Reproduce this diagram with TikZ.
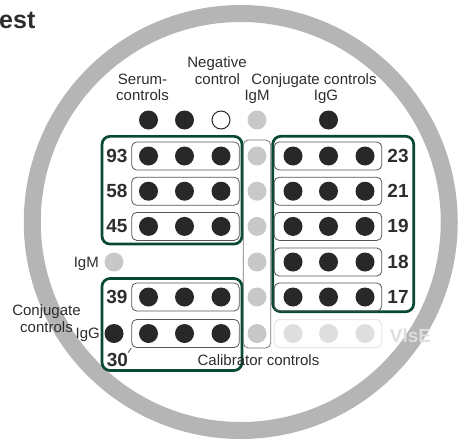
\documentclass[tikz,border=0pt]{standalone}
\usepackage{fontspec}
\setmainfont{Liberation Sans}
\definecolor{ringgray}{RGB}{180,181,180}
\definecolor{grpgreen}{RGB}{8,72,54}
\definecolor{dotdark}{RGB}{40,40,40}
\definecolor{calgray}{RGB}{200,200,200}
\definecolor{vgray}{RGB}{222,222,222}
\definecolor{vline}{RGB}{230,230,230}
\definecolor{textc}{RGB}{45,45,45}
\definecolor{rowline}{RGB}{85,85,85}
\begin{document}
\begin{tikzpicture}[x=1pt,y=-1pt,
  lbl/.style={font=\fontsize{15}{17}\selectfont, text=textc, inner sep=0pt},
  num/.style={font=\fontsize{19}{21}\selectfont\bfseries, text=textc, inner sep=0pt},
  dotd/.style={circle, minimum size=19pt, inner sep=0pt, fill=dotdark},
  dotc/.style={circle, minimum size=19pt, inner sep=0pt, fill=calgray},
  dotv/.style={circle, minimum size=19pt, inner sep=0pt, fill=vgray},
  doto/.style={circle, minimum size=18pt, inner sep=0pt, fill=white, draw=dotdark, line width=1pt},
  rowbox/.style={rectangle, draw=rowline, line width=0.8pt, rounded corners=5pt, minimum width=107.6pt, minimum height=28pt, inner sep=0pt},
  vbox/.style={rectangle, draw=vline, line width=1pt, rounded corners=5pt, minimum width=107.6pt, minimum height=28pt, inner sep=0pt},
  calbox/.style={rectangle, draw=rowline!80, line width=0.8pt, rounded corners=5pt, minimum width=27.4pt, minimum height=208pt, inner sep=0pt},
  grp/.style={rectangle, draw=grpgreen, line width=2.7pt, rounded corners=8pt, inner sep=0pt}
]
\useasboundingbox (0,0) rectangle (462,439);
\begin{scope}
  \clip (0,0) rectangle (462,439);
  \draw[ringgray, line width=17pt] (240.75,222) circle[radius=208.5pt];
\end{scope}

% title fragment
\node[font=\fontsize{25}{27}\selectfont\bfseries, text=textc, inner sep=0pt, anchor=base west] (title) at (-1,28) {est};

% top labels
\node[lbl, anchor=base] (serumA) at (142.5,84) {Serum-};
\node[lbl, anchor=base] (serumB) at (142.5,100) {controls};
\node[lbl, anchor=base] (negA) at (217,67) {Negative};
\node[lbl, anchor=base] (negB) at (217.5,84) {control};
\node[lbl, anchor=base] (conjT) at (314,84) {Conjugate controls};
\node[lbl, anchor=base] (igmT) at (257,100) {IgM};
\node[lbl, anchor=base] (iggT) at (326,100) {IgG};

% top row dots
\node[dotd] (s1) at (148.5,120) {};
\node[dotd] (s2) at (184.5,120) {};
\node[doto] (neg) at (221,120) {};
\node[dotc] (tigm) at (257,120) {};
\node[dotd] (tigg) at (328.5,120) {};

% group boxes
\node[grp, minimum width=140pt, minimum height=107.7pt] (gLT) at (172,190.2) {};
\node[grp, minimum width=140pt, minimum height=92pt] (gLB) at (172,324.5) {};
\node[grp, minimum width=141pt, minimum height=175.4pt] (gR) at (343.2,224) {};

% calibrator column
\node[calbox] (cal) at (257,244) {};
\foreach \y [count=\i] in {156,191.2,226.4,262,297,333.5} {
  \node[dotc] (c\i) at (257,\y) {};
}

% left rows
\foreach \y/\n in {156/93,191.2/58,226.4/45,297/39,333.5/30} {
  \node[rowbox] (r\n) at (185.5,\y) {};
  \node[dotd] (r\n a) at (148.5,\y) {};
  \node[dotd] (r\n b) at (184.5,\y) {};
  \node[dotd] (r\n c) at (221,\y) {};
}
\foreach \y/\n in {156/93,191.2/58,226.4/45,297/39} {
  \node[num] (n\n) at (117,\y) {\n};
}
\node[num] (n30) at (117.5,359.5) {30};
\draw[rowline, line width=0.8pt] (n30.north east) -- (r30.south west);

% right rows
\foreach \y/\n in {156/23,191.2/21,226.4/19,262/18,297/17} {
  \node[rowbox] (r\n) at (328,\y) {};
  \node[dotd] (r\n a) at (293,\y) {};
  \node[dotd] (r\n b) at (328.5,\y) {};
  \node[dotd] (r\n c) at (365,\y) {};
  \node[num] (n\n) at (398,\y) {\n};
}

% VlsE row
\node[vbox] (rv) at (328,333.5) {};
\node[dotv] (rva) at (293,333.5) {};
\node[dotv] (rvb) at (328.5,333.5) {};
\node[dotv] (rvc) at (365,333.5) {};
\node[num, text=vgray] (vlse) at (410.5,335.5) {VlsE};

% left side conjugate controls
\node[lbl, anchor=base east] (igmL) at (99,267.5) {IgM};
\node[dotc] (ligm) at (114,262) {};
\node[dotd] (ligg) at (114,333.5) {};
\node[lbl, anchor=base east] (iggL) at (100,338) {IgG};
\node[lbl, anchor=base] (conjA) at (46.5,315.5) {Conjugate};
\node[lbl, anchor=base] (conjB) at (46.5,332) {controls};

% calibrator label
\node[lbl] (callbl) at (258.5,360) {Calibrator controls};
\end{tikzpicture}
\end{document}
